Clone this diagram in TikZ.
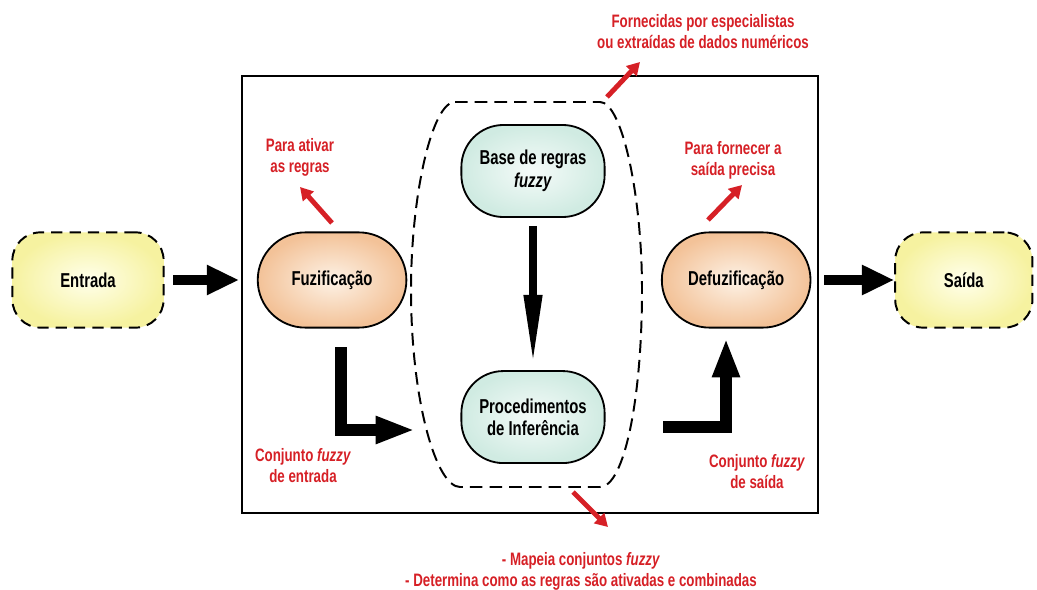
\documentclass[tikz,border=0pt]{standalone}
\usepackage{fontspec}
\setmainfont[FakeStretch=0.74]{Liberation Sans}
\usetikzlibrary{positioning,arrows.meta,shapes.misc}

\definecolor{laranjaF}{RGB}{243,194,152}
\definecolor{laranjaC}{RGB}{253,242,230}
\definecolor{verdeF}{RGB}{208,235,226}
\definecolor{verdeC}{RGB}{245,251,249}
\definecolor{amareloF}{RGB}{246,242,160}
\definecolor{amareloC}{RGB}{255,255,235}
\definecolor{vermelho}{RGB}{214,32,38}

\tikzset{
  terminal/.style={draw, line width=1.4pt, dash pattern=on 8pt off 5pt, rounded corners=0.7cm,
    minimum width=3.78cm, minimum height=2.38cm, inner color=amareloC, outer color=amareloF},
  etapa/.style={draw, rounded rectangle, line width=1.3pt, minimum width=3.95cm, minimum height=2.38cm,
    inner color=laranjaC, outer color=laranjaF},
  regra/.style={draw, line width=1.3pt, rounded corners=1.05cm, align=center, minimum width=3.58cm,
    minimum height=2.3cm, inner color=verdeC, outer color=verdeF},
  seta/.style={line width=7pt, -{Triangle[length=23pt, width=20pt]}},
  desce/.style={line width=5.5pt, -{Triangle[length=50pt, width=12pt]}},
  dobra/.style={line width=9pt, -{Triangle[length=28pt, width=18pt]}},
  nota/.style={draw=vermelho, line width=3.5pt, -{Triangle[length=9pt, width=10pt]}, color=vermelho},
  obs/.style={text=vermelho, align=center, font=\fontsize{12.8}{15}\selectfont\bfseries},
  contorno/.style={line width=1.4pt, dash pattern=on 9pt off 5pt}
}

\begin{document}
\begin{tikzpicture}[x=0.025cm, y=-0.025cm, node distance=6.1cm,
  every node/.style={font=\fontsize{14.3}{16}\selectfont\bfseries}]
\useasboundingbox (0,0) rectangle (1037,590);

% sistema fuzzy
\node[draw, line width=2pt, minimum width=14.4cm, minimum height=10.925cm] (sistema) at (530,294.5) {};
\draw[contorno] (455,102) -- (600,102) .. controls (622,102) and (642,195) .. (642,290)
  .. controls (642,400) and (624,487) .. (600,487) -- (460,487)
  .. controls (436,487) and (411,400) .. (411,290) .. controls (411,195) and (432,102) .. (455,102);

\node[terminal] (entrada) at (88,280) {Entrada};
\node[etapa, right of=entrada] (fuz) {Fuzificação};
\node[etapa, right of=fuz, xshift=4cm] (defuz) {Defuzificação};
\node[terminal, right of=defuz, xshift=-0.41cm, minimum width=3.43cm] (saida) {Saída};
\node[regra] (base) at (533,171) {Base de regras\\\textit{fuzzy}};
\node[regra, below of=base, node distance=6.15cm] (proc) {Procedimentos\\de Inferência};

\draw[seta, shorten <=6pt, shorten >=1pt] (entrada) -- (entrada -| sistema.west);
\draw[seta, shorten <=9pt] (defuz) -- (saida);
\draw[desce, shorten <=5.7pt, shorten >=3.5pt] (base) -- (proc);

\coordinate (l1) at (341,347);
\coordinate (l2) at (415,430);
\coordinate (l3) at (663,427);
\coordinate (l4) at (726,338);
\draw[dobra] (l1) |- (l2);
\draw[dobra] (l3) -| (l4);

% notas
\node[obs] (ativar) at (300,157) {Para ativar\\as regras};
\node[obs] (fornecidas) at (703,32) {Fornecidas por especialistas\\ou extraídas de dados numéricos};
\node[obs] (fornecer) at (733,160) {Para fornecer a\\saída precisa};
\node[obs] (cin) at (303,466) {Conjunto \textit{fuzzy}\\de entrada};
\node[obs] (cout) at (757,472) {Conjunto \textit{fuzzy}\\de saída};
\node[obs] (mapeia) at (581,571) {- Mapeia conjuntos \textit{fuzzy}\\- Determina como as regras são ativadas e combinadas};

\coordinate (a1) at (332,223);
\coordinate (a2) at (300,187);
\coordinate (b1) at (607,97);
\coordinate (b2) at (640,62);
\coordinate (c1) at (708,220);
\coordinate (c2) at (742,185);
\coordinate (d1) at (573,492);
\coordinate (d2) at (608,527);
\draw[nota] (a1) -- (a2);
\draw[nota] (b1) -- (b2);
\draw[nota] (c1) -- (c2);
\draw[nota] (d1) -- (d2);
\end{tikzpicture}
\end{document}
